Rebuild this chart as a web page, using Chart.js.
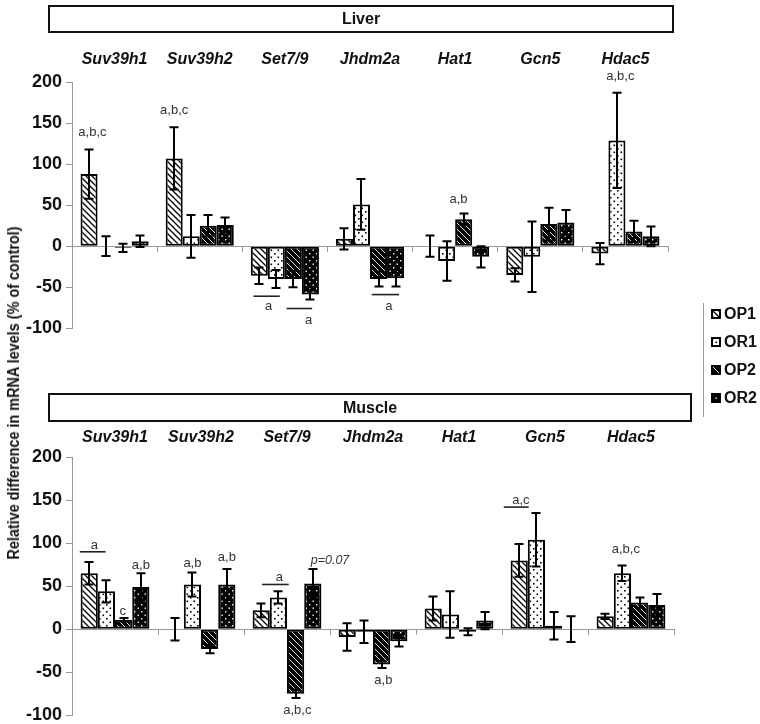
<!DOCTYPE html>
<html>
<head>
<meta charset="utf-8">
<script src="https://cdn.jsdelivr.net/npm/chart.js@4.4.1/dist/chart.umd.min.js"></script>
<style>
  body { margin: 0; background: #fff; font-family: "Liberation Sans", Arial, sans-serif; }
  #wrap { position: relative; width: 760px; height: 724px; overflow: hidden; }
  canvas.chart { position: absolute; left: 0; }
  .panel-title { position: absolute; box-sizing: border-box; border: 2px solid #111; background: transparent;
    font: bold 16px "Liberation Sans", Arial, sans-serif; color: #111; text-align: center; }
  #ytitle { position: absolute; left: 14px; top: 393px; white-space: nowrap; color: #111;
    font: bold 16px "Liberation Sans", Arial, sans-serif;
    transform: translate(-50%, -50%) rotate(-90deg) scale(0.9, 1); }
  #legend { position: absolute; left: 703px; top: 303px; height: 114px; border-left: 1px solid #999; }
  .leg { position: absolute; left: 7px; display: flex; align-items: center; white-space: nowrap;
    font: bold 16px "Liberation Sans", Arial, sans-serif; color: #111; }
  .leg canvas { margin-right: 3px; }
</style>
</head>
<body>
<div id="wrap">
  <canvas id="liver" class="chart" width="700" height="343" style="top:0;width:700px;height:343px"></canvas>
  <canvas id="muscle" class="chart" width="700" height="330" style="top:400px;width:700px;height:330px"></canvas>
  <div class="panel-title" style="left:48px;top:5px;width:626px;height:28px;line-height:24px">Liver</div>
  <div class="panel-title" style="left:48px;top:393px;width:644px;height:29px;line-height:25px">Muscle</div>
  <div id="ytitle">Relative difference in mRNA levels (% of control)</div>
  <div id="legend"></div>
</div>
<script>
const genes = ['Suv39h1', 'Suv39h2', 'Set7/9', 'Jhdm2a', 'Hat1', 'Gcn5', 'Hdac5'];
const seriesNames = ['OP1', 'OR1', 'OP2', 'OR2'];
const yTicks = { min: -100, max: 200, step: 50 };

// Liver: mean values (% of control) and error bars
const liverOP1 = [88, 107, -36, 9, 0, -35, -9];
const liverOR1 = [0, 12, -40, 51, -18, -13, 129];
const liverOP2 = [-2, 25, -40, -40, 33, 27, 18];
const liverOR2 = [6, 26, -59, -39, -13, 29, 12];
const liverErrOP1 = [30, 38, 10, 13, 13, 8, 13];
const liverErrOR1 = [12, 26, 11, 31, 24, 43, 58];
const liverErrOP2 = [5, 13, 10, 9, 7, 20, 13];
const liverErrOR2 = [7, 9, 6, 10, 13, 15, 12];

// Muscle
const muscleOP1 = [65, 0, 22, -9, 24, 80, 15];
const muscleOR1 = [44, 52, 37, -3, 17, 104, 65];
const muscleOP2 = [11, -23, -75, -41, -3, 4, 31];
const muscleOR2 = [49, 52, 53, -14, 10, 0, 28];
const muscleErrOP1 = [13, 13, 8, 16, 14, 19, 3];
const muscleErrOR1 = [13, 14, 7, 13, 27, 31, 9];
const muscleErrOP2 = [2, 5, 5, 4, 4, 16, 6];
const muscleErrOR2 = [16, 18, 17, 6, 10, 15, 13];

// significance letters: [gene, bar offset (in bar widths from OP1), value, text]
const liverNotes = [
  [0, 0.2, 139, 'a,b,c'], [1, 0, 166, 'a,b,c'], [2, 0.55, -73, 'a'], [2, 2.9, -91, 'a'],
  [3, 2.6, -73, 'a'], [4, 1.7, 57, 'a,b'], [6, 1.2, 207, 'a,b,c']
];
const liverLines = [[2, -0.35, 1.2, -61], [2, 1.6, 3.1, -76], [3, 1.6, 3.2, -59]];
const muscleNotes = [
  [0, 0.3, 97, 'a'], [0, 1.95, 21, 'c'], [0, 3, 74, 'a,b'], [1, 1, 77, 'a,b'], [1, 3, 83, 'a,b'],
  [2, 1.05, 60, 'a'], [2, 4, 80, 'p=0.07'], [2, 2.1, -95, 'a,b,c'], [3, 2.1, -59, 'a,b'],
  [5, 0.1, 150, 'a,c'], [6, 1.2, 93, 'a,b,c']
];
const muscleLines = [[0, -0.55, 0.95, 90], [2, 0.05, 1.6, 52], [5, -0.9, 0.55, 142]];

function makePattern(bg, fg, kind) {
  const c = document.createElement('canvas');
  const n = kind === 'diag' ? 6 : 7;
  c.width = n; c.height = n;
  const g = c.getContext('2d');
  g.fillStyle = bg; g.fillRect(0, 0, n, n);
  g.fillStyle = fg; g.strokeStyle = fg;
  if (kind === 'diag') {
    g.lineWidth = bg === '#fff' ? 1.3 : 0.9;
    g.beginPath();
    g.moveTo(-1, -1); g.lineTo(n + 1, n + 1);
    g.moveTo(-1, n - 1); g.lineTo(1, n + 1);
    g.moveTo(n - 1, -1); g.lineTo(n + 1, 1);
    g.stroke();
  } else {
    const d = bg === '#fff' ? 1.6 : 1.4;
    g.fillRect(1, 1, d, d);
    g.fillRect(4.5, 4.5, d, d);
  }
  return g.createPattern(c, 'repeat');
}

const patterns = [
  makePattern('#fff', '#000', 'diag'),
  makePattern('#fff', '#000', 'dots'),
  makePattern('#000', '#fff', 'diag'),
  makePattern('#000', '#fff', 'dots')
];

const errorBars = {
  id: 'errorBars',
  afterDatasetsDraw(chart) {
    const ys = chart.scales.y, ctx = chart.ctx;
    ctx.save();
    ctx.strokeStyle = '#000';
    ctx.lineWidth = 2;
    chart.data.datasets.forEach((ds, i) => {
      chart.getDatasetMeta(i).data.forEach((bar, j) => {
        const v = ds.data[j], e = ds.errors[j];
        const yT = ys.getPixelForValue(v + e), yB = ys.getPixelForValue(v - e);
        const x = Math.round(bar.x);
        ctx.beginPath();
        ctx.moveTo(x, yT); ctx.lineTo(x, yB);
        ctx.moveTo(x - 4.5, yT); ctx.lineTo(x + 4.5, yT);
        ctx.moveTo(x - 4.5, yB); ctx.lineTo(x + 4.5, yB);
        ctx.stroke();
      });
    });
    ctx.restore();
  }
};

const notesPlugin = {
  id: 'notes',
  afterDraw(chart, args, opts) {
    const ys = chart.scales.y, ctx = chart.ctx;
    const m0 = chart.getDatasetMeta(0).data, m1 = chart.getDatasetMeta(1).data;
    const xAt = (g, s) => m0[g].x + s * (m1[g].x - m0[g].x);
    ctx.save();
    ctx.fillStyle = '#333';
    ctx.textAlign = 'center';
    ctx.textBaseline = 'middle';
    opts.notes.forEach(([g, s, v, t]) => {
      ctx.font = t.startsWith('p=') ? 'italic 12.5px "Liberation Sans"' : '13px "Liberation Sans"';
      ctx.fillText(t, xAt(g, s), ys.getPixelForValue(v));
    });
    ctx.strokeStyle = '#222';
    ctx.lineWidth = 1.6;
    opts.lines.forEach(([g, s1, s2, v]) => {
      const y = ys.getPixelForValue(v);
      ctx.beginPath();
      ctx.moveTo(xAt(g, s1), y); ctx.lineTo(xAt(g, s2), y);
      ctx.stroke();
    });
    ctx.restore();
  }
};

function buildChart(id, values, errors, notes, lines, pad) {
  return new Chart(document.getElementById(id), {
    type: 'bar',
    data: {
      labels: genes,
      datasets: seriesNames.map((name, i) => ({
        label: name,
        data: values[i],
        errors: errors[i],
        backgroundColor: patterns[i],
        borderColor: '#000',
        borderWidth: 2,
        borderSkipped: false,
        categoryPercentage: 0.8,
        barPercentage: 1.0
      }))
    },
    options: {
      responsive: false,
      animation: false,
      events: [],
      layout: { padding: pad },
      plugins: {
        legend: { display: false },
        tooltip: { enabled: false },
        notes: { notes: notes, lines: lines }
      },
      scales: {
        x: {
          position: { y: 0 },
          offset: true,
          grid: { drawOnChartArea: false, drawTicks: true, tickLength: 5, color: '#999', offset: true },
          border: { color: '#999', width: 1 },
          ticks: { display: false }
        },
        x2: {
          type: 'category',
          labels: genes,
          position: 'top',
          offset: true,
          grid: { display: false, drawTicks: false },
          border: { display: false },
          ticks: {
            color: '#111',
            padding: pad.labelGap,
            maxRotation: 0,
            font: { family: '"Liberation Sans", Arial, sans-serif', size: 16, weight: 'bold', style: 'italic' }
          }
        },
        y: {
          min: yTicks.min,
          max: yTicks.max,
          grid: { drawOnChartArea: false, tickLength: 6, color: '#999' },
          border: { color: '#999', width: 1 },
          ticks: {
            stepSize: yTicks.step,
            padding: 4,
            color: '#111',
            font: { family: '"Liberation Sans", Arial, sans-serif', size: 18, weight: 'bold' }
          }
        }
      }
    },
    plugins: [errorBars, notesPlugin]
  });
}

buildChart('liver',
  [liverOP1, liverOR1, liverOP2, liverOR2],
  [liverErrOP1, liverErrOR1, liverErrOP2, liverErrOR2],
  liverNotes, liverLines,
  { left: 22, right: 32, top: 37, bottom: 0, labelGap: 13 });

buildChart('muscle',
  [muscleOP1, muscleOR1, muscleOP2, muscleOR2],
  [muscleErrOP1, muscleErrOR1, muscleErrOP2, muscleErrOR2],
  muscleNotes, muscleLines,
  { left: 22, right: 26, top: 18, bottom: 0, labelGap: 10 });

// legend
const legend = document.getElementById('legend');
const legendTops = [12, 40, 68, 96];
seriesNames.forEach((name, i) => {
  const item = document.createElement('div');
  item.className = 'leg';
  item.style.top = (legendTops[i] - 10) + 'px';
  const sw = document.createElement('canvas');
  sw.width = 10; sw.height = 10;
  const g = sw.getContext('2d');
  g.fillStyle = patterns[i]; g.fillRect(0, 0, 10, 10);
  g.strokeStyle = '#000'; g.lineWidth = 2; g.strokeRect(1, 1, 8, 8);
  item.appendChild(sw);
  item.appendChild(document.createTextNode(name));
  legend.appendChild(item);
});
</script>
</body>
</html>
